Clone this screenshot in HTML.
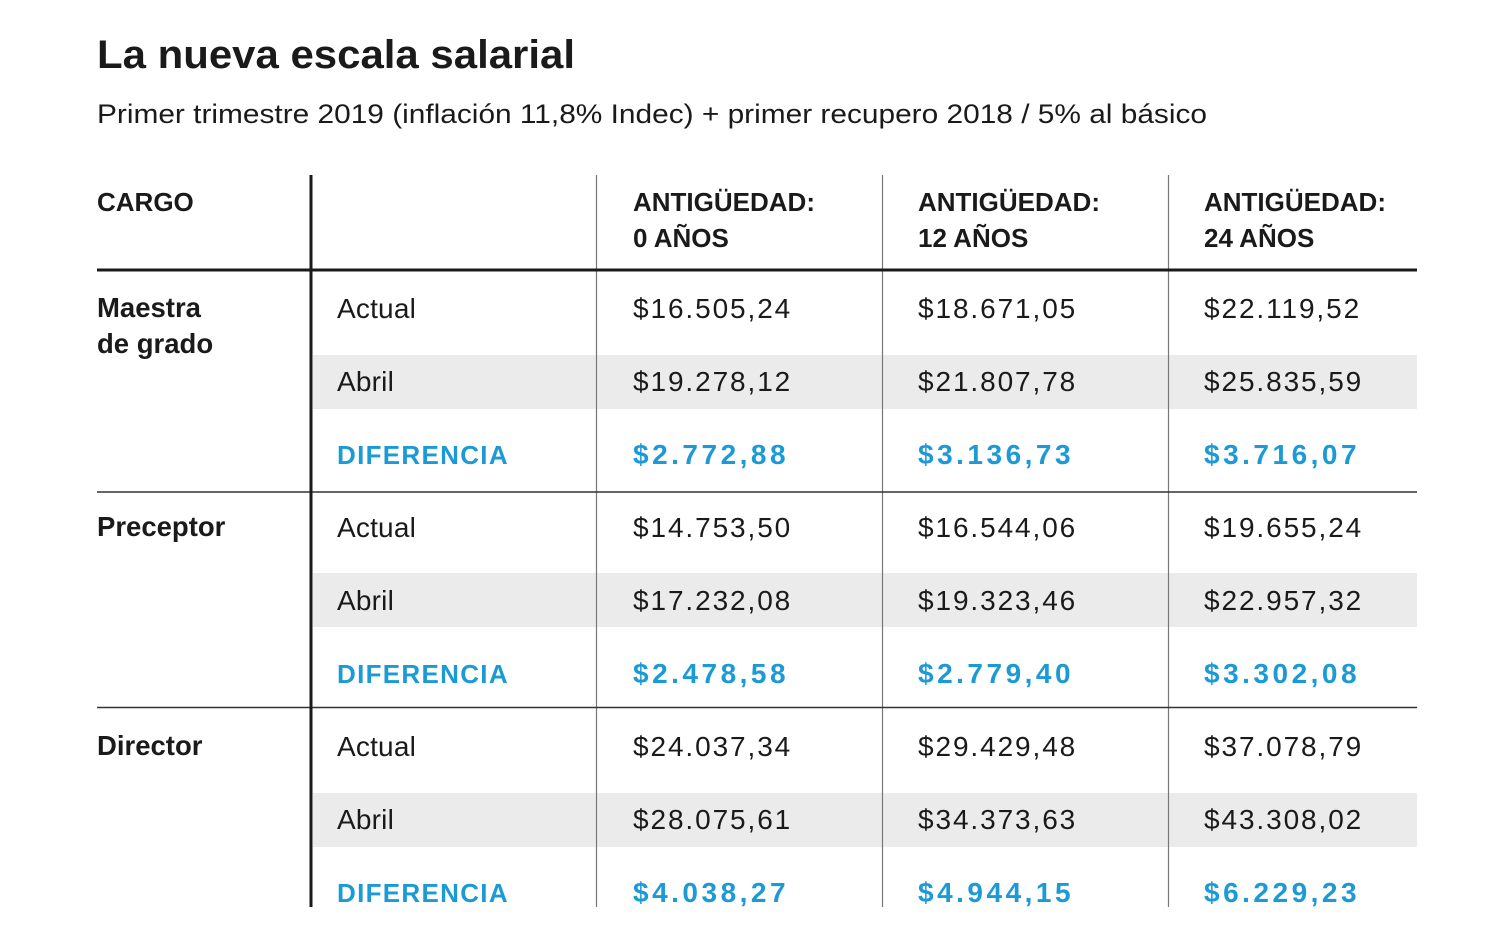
<!DOCTYPE html>
<html><head><meta charset="utf-8"><style>
html,body{margin:0;padding:0;background:#fff;}
svg{display:block;}
text{font-family:"Liberation Sans",sans-serif;fill:#1a1a1a;}
.h{font-weight:bold;font-size:26px;}
.c{font-weight:bold;font-size:27.5px;}
.l{font-size:28px;letter-spacing:0.2px;}
.r{font-size:28px;letter-spacing:1.9px;}
.b{font-weight:bold;font-size:28px;fill:#1b9ad6;letter-spacing:3.5px;}
.d{font-weight:bold;font-size:26px;fill:#1b9ad6;letter-spacing:1.3px;}
</style></head><body>
<svg width="1500" height="937" viewBox="0 0 1500 937" xmlns="http://www.w3.org/2000/svg">
<rect width="1500" height="937" fill="#fff"/>
<text x="97" y="68" font-size="40" font-weight="bold" textLength="478" lengthAdjust="spacingAndGlyphs">La nueva escala salarial</text>
<text x="97" y="123" font-size="27" fill="#222" textLength="1110" lengthAdjust="spacingAndGlyphs">Primer trimestre 2019 (inflación 11,8% Indec) + primer recupero 2018 / 5% al básico</text>
<rect x="313" y="355" width="1104" height="54" fill="#ebebeb"/>
<rect x="313" y="573" width="1104" height="54" fill="#ebebeb"/>
<rect x="313" y="793" width="1104" height="54" fill="#ebebeb"/>
<line x1="596.5" y1="175" x2="596.5" y2="907" stroke="#777" stroke-width="1.2"/>
<line x1="882.5" y1="175" x2="882.5" y2="907" stroke="#777" stroke-width="1.2"/>
<line x1="1168.5" y1="175" x2="1168.5" y2="907" stroke="#777" stroke-width="1.2"/>
<line x1="97" y1="270" x2="1417" y2="270" stroke="#1a1a1a" stroke-width="3"/>
<line x1="97" y1="492" x2="1417" y2="492" stroke="#333" stroke-width="1.6"/>
<line x1="97" y1="707.5" x2="1417" y2="707.5" stroke="#333" stroke-width="1.6"/>
<line x1="311" y1="175" x2="311" y2="907" stroke="#1a1a1a" stroke-width="3"/>
<text class="h" x="97" y="211">CARGO</text>
<text class="h" x="633" y="211">ANTIGÜEDAD:</text><text class="h" x="633" y="247">0 AÑOS</text>
<text class="h" x="918" y="211">ANTIGÜEDAD:</text><text class="h" x="918" y="247">12 AÑOS</text>
<text class="h" x="1204" y="211">ANTIGÜEDAD:</text><text class="h" x="1204" y="247">24 AÑOS</text>
<text class="c" x="97" y="317">Maestra</text><text class="c" x="97" y="353">de grado</text>
<text class="l" x="337" y="318">Actual</text>
<text class="r" x="633" y="318">$16.505,24</text><text class="r" x="918" y="318">$18.671,05</text><text class="r" x="1204" y="318">$22.119,52</text>
<text class="l" x="337" y="391">Abril</text>
<text class="r" x="633" y="391">$19.278,12</text><text class="r" x="918" y="391">$21.807,78</text><text class="r" x="1204" y="391">$25.835,59</text>
<text class="d" x="337" y="464">DIFERENCIA</text>
<text class="b" x="633" y="464">$2.772,88</text><text class="b" x="918" y="464">$3.136,73</text><text class="b" x="1204" y="464">$3.716,07</text>
<text class="c" x="97" y="536">Preceptor</text>
<text class="l" x="337" y="537">Actual</text>
<text class="r" x="633" y="537">$14.753,50</text><text class="r" x="918" y="537">$16.544,06</text><text class="r" x="1204" y="537">$19.655,24</text>
<text class="l" x="337" y="610">Abril</text>
<text class="r" x="633" y="610">$17.232,08</text><text class="r" x="918" y="610">$19.323,46</text><text class="r" x="1204" y="610">$22.957,32</text>
<text class="d" x="337" y="683">DIFERENCIA</text>
<text class="b" x="633" y="683">$2.478,58</text><text class="b" x="918" y="683">$2.779,40</text><text class="b" x="1204" y="683">$3.302,08</text>
<text class="c" x="97" y="755">Director</text>
<text class="l" x="337" y="756">Actual</text>
<text class="r" x="633" y="756">$24.037,34</text><text class="r" x="918" y="756">$29.429,48</text><text class="r" x="1204" y="756">$37.078,79</text>
<text class="l" x="337" y="829">Abril</text>
<text class="r" x="633" y="829">$28.075,61</text><text class="r" x="918" y="829">$34.373,63</text><text class="r" x="1204" y="829">$43.308,02</text>
<text class="d" x="337" y="902">DIFERENCIA</text>
<text class="b" x="633" y="902">$4.038,27</text><text class="b" x="918" y="902">$4.944,15</text><text class="b" x="1204" y="902">$6.229,23</text>
</svg>
</body></html>
